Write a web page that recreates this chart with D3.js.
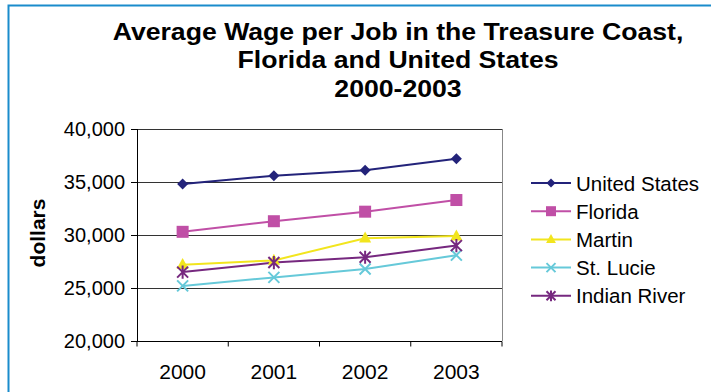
<!DOCTYPE html>
<html><head><meta charset="utf-8">
<script src="https://cdn.jsdelivr.net/npm/d3@7"></script>
<style>body{margin:0;background:#fff;}svg{display:block;font-family:"Liberation Sans",Arial,sans-serif;}</style>
</head><body><svg id="c" width="711" height="392"></svg>
<script>
const years = ["2000","2001","2002","2003"];
const seriesNames = ["United States","Florida","Martin","St. Lucie","Indian River"];
const usValues = [34800,35600,36100,37200];
const floridaValues = [30300,31300,32200,33300];
const martinValues = [27200,27600,29700,29900];
const stLucieValues = [25200,26000,26800,28100];
const indianRiverValues = [26500,27400,27900,29000];
const yTicks = [20000,25000,30000,35000,40000];
const titleLines = ["Average Wage per Job in the Treasure Coast,","Florida and United States","2000-2003"];

(function(){
const colors = ["#23237a","#c04fa6","#f2e51e","#66c9d9","#76287f"];
const markers = ["diamond","square","triangle","x","star"];
const allValues = [usValues,floridaValues,martinValues,stLucieValues,indianRiverValues];

const svg = d3.select("#c");
svg.append("path").attr("d","M8.5,392 V5.5 H711").attr("fill","none").attr("stroke","#1a8ccc").attr("stroke-width",2);

const pl=137, pr=502, pt=129, pb=341;
const x = d3.scaleBand().domain(years).range([pl,pr]);
const y = d3.scaleLinear().domain([20000,40000]).range([pb,pt]);

const t = svg.append("g").attr("transform","translate(398,0) scale(1.11,1)")
  .append("text").attr("text-anchor","middle").attr("font-weight","bold").attr("font-size",24).attr("fill","#000");
titleLines.forEach((l,i)=>t.append("tspan").attr("x",0).attr("y",40+i*28.5).text(l));

svg.append("g").selectAll("line").data(yTicks).join("line")
  .attr("x1",pl).attr("x2",pr).attr("y1",d=>Math.round(y(d))+0.5).attr("y2",d=>Math.round(y(d))+0.5)
  .attr("stroke","#333").attr("stroke-width",1);
svg.append("line").attr("x1",pr+0.5).attr("x2",pr+0.5).attr("y1",pt).attr("y2",pb).attr("stroke","#888");

const ya = svg.append("g").attr("transform",`translate(${pl},0)`)
  .call(d3.axisLeft(y).tickValues(yTicks).tickSize(6).tickPadding(6).tickFormat(d3.format(",")));
ya.selectAll("text").attr("font-size",20).attr("font-family","Liberation Sans, Arial, sans-serif").attr("fill","#000");
ya.selectAll("line,path").attr("stroke","#000");
ya.select(".domain").attr("d",`M0.5,${pt}V${pb}`);

const xa = svg.append("g").attr("transform",`translate(0,${pb+0.5})`);
xa.append("line").attr("x1",pl).attr("x2",pr).attr("stroke","#000");
xa.selectAll(".tk").data(d3.range(years.length+1)).join("line").attr("class","tk")
  .attr("x1",i=>pl+i*x.bandwidth()).attr("x2",i=>pl+i*x.bandwidth()).attr("y1",0).attr("y2",5).attr("stroke","#000");
xa.selectAll("text").data(years).join("text").attr("x",d=>x(d)+x.bandwidth()/2).attr("y",37)
  .attr("text-anchor","middle").attr("font-size",21).text(d=>d);

svg.append("text").attr("transform","translate(45,233) rotate(-90)").attr("text-anchor","middle")
  .attr("font-weight","bold").attr("font-size",21).text("dollars");

function drawMarker(g,type,color,s){
  if(type==="diamond") g.append("path").attr("d",`M0,${-s}L${s},0L0,${s}L${-s},0Z`).attr("fill",color);
  else if(type==="square") g.append("rect").attr("x",-s).attr("y",-s).attr("width",2*s).attr("height",2*s).attr("fill",color);
  else if(type==="triangle") g.append("path").attr("d",`M0,${-s*1.2}L${s*1.1},${s*0.8}L${-s*1.1},${s*0.8}Z`).attr("fill",color);
  else if(type==="x") g.append("path").attr("d",`M${-s},${-s}L${s},${s}M${-s},${s}L${s},${-s}`).attr("stroke",color).attr("stroke-width",2);
  else if(type==="star") g.append("path").attr("d",`M${-s},${-s}L${s},${s}M${-s},${s}L${s},${-s}M0,${-s*1.2}V${s*1.2}`).attr("stroke",color).attr("stroke-width",2);
}

const line = d3.line().x((d,i)=>x(years[i])+x.bandwidth()/2).y(d=>y(d));
allValues.forEach((vals,k)=>{
  svg.append("path").datum(vals).attr("d",line).attr("fill","none").attr("stroke",colors[k]).attr("stroke-width",2);
});
allValues.forEach((vals,k)=>{
  vals.forEach((v,i)=>{
    const g = svg.append("g").attr("transform",`translate(${x(years[i])+x.bandwidth()/2},${y(v)})`);
    drawMarker(g,markers[k],colors[k],k===1?6:5.5);
  });
});

seriesNames.forEach((n,k)=>{
  const yy = 183 + k*28.2;
  svg.append("line").attr("x1",531).attr("x2",571).attr("y1",yy).attr("y2",yy).attr("stroke",colors[k]).attr("stroke-width",2);
  const g = svg.append("g").attr("transform",`translate(551,${yy})`);
  drawMarker(g,markers[k],colors[k],k===1?5:4.5);
  svg.append("text").attr("x",576).attr("y",yy+7.5).attr("font-size",20.5).text(n);
});
})();
</script></body></html>
